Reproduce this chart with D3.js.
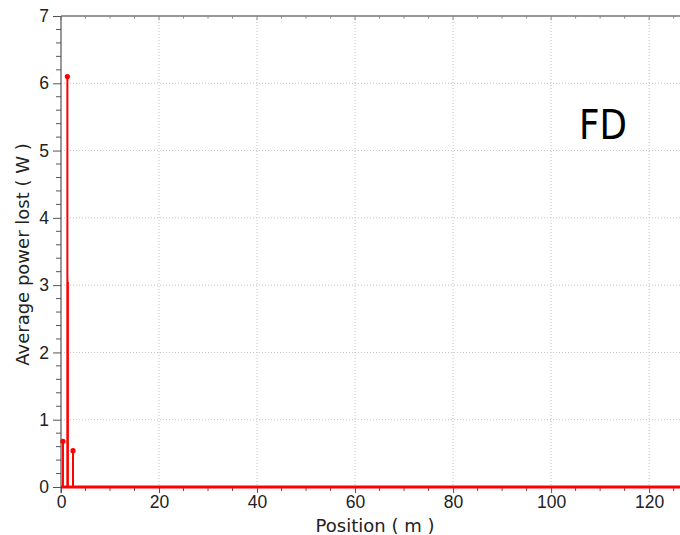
<!DOCTYPE html>
<html>
<head>
<meta charset="utf-8">
<script src="https://cdn.jsdelivr.net/npm/d3@7"></script>
<style>
  html, body { margin: 0; padding: 0; background: #fff; }
  svg { display: block; font-family: "DejaVu Sans", sans-serif; }
</style>
</head>
<body>
<svg id="chart" width="680" height="535"></svg>
<script>
// Stem data: position along the line (m) and average power lost (W)
const positions = [0.4, 1.3, 1.4, 2.45];
const powers = [0.68, 6.1, 3.05, 0.54];
const showMarker = [true, true, false, true];

const xTicks = [0, 20, 40, 60, 80, 100, 120];
const yTicks = [0, 1, 2, 3, 4, 5, 6, 7];
const xDomain = [0, 126.3];
const yDomain = [0, 7];

const svg = d3.select("#chart");
const plotLeft = 61, plotRight = 680, plotTop = 16, plotBottom = 487;

const x = d3.scaleLinear().domain(xDomain).range([plotLeft, plotRight]);
const y = d3.scaleLinear().domain(yDomain).range([plotBottom, plotTop]);

const red = "#ff0000";
const axisColor = "#555";

// dotted grid at major ticks
const grid = svg.append("g");
grid.selectAll("line.gx").data(xTicks.filter(d => d > 0)).join("line")
  .attr("x1", d => x(d)).attr("x2", d => x(d))
  .attr("y1", plotTop).attr("y2", plotBottom)
  .attr("stroke", "#c4c4c4").attr("stroke-width", 1).attr("stroke-dasharray", "1,2");
grid.selectAll("line.gy").data(yTicks.filter(d => d > 0 && d < 7)).join("line")
  .attr("x1", plotLeft).attr("x2", plotRight)
  .attr("y1", d => y(d)).attr("y2", d => y(d))
  .attr("stroke", "#c4c4c4").attr("stroke-width", 1).attr("stroke-dasharray", "1,2");

const xMinor = d3.range(0, 126, 5).filter(d => d % 20 !== 0);
const yMinor = d3.range(0, 7.01, 0.2).filter(d => Math.abs(d - Math.round(d)) > 1e-6);

// bottom axis
const xAxis = svg.append("g").attr("transform", `translate(0,${plotBottom})`)
  .call(d3.axisBottom(x).tickValues(xTicks).tickFormat(d3.format("d")).tickSize(6).tickPadding(3));
xAxis.select(".domain").remove();
xAxis.selectAll(".tick line").attr("stroke", axisColor);
xAxis.selectAll("text").attr("font-size", 17.5).attr("fill", "#222");
svg.append("g").selectAll("line").data(xMinor).join("line")
  .attr("x1", d => x(d)).attr("x2", d => x(d))
  .attr("y1", plotBottom).attr("y2", plotBottom + 4)
  .attr("stroke", axisColor);

// left axis
const yAxis = svg.append("g").attr("transform", `translate(${plotLeft},0)`)
  .call(d3.axisLeft(y).tickValues(yTicks).tickFormat(d3.format("d")).tickSize(8).tickPadding(4));
yAxis.select(".domain").remove();
yAxis.selectAll(".tick line").attr("stroke", axisColor);
yAxis.selectAll("text").attr("font-size", 17.5).attr("fill", "#222");
svg.append("g").selectAll("line").data(yMinor).join("line")
  .attr("x1", plotLeft - 5).attr("x2", plotLeft)
  .attr("y1", d => y(d)).attr("y2", d => y(d))
  .attr("stroke", axisColor);

// top frame with inward ticks
svg.append("line").attr("x1", plotLeft).attr("x2", plotRight).attr("y1", plotTop).attr("y2", plotTop)
  .attr("stroke", "#777").attr("stroke-width", 1.5);
svg.append("g").selectAll("line").data(xMinor.concat(xTicks)).join("line")
  .attr("x1", d => x(d)).attr("x2", d => x(d))
  .attr("y1", plotTop).attr("y2", d => plotTop + (d % 20 === 0 ? 4 : 2.5))
  .attr("stroke", "#888");
svg.append("line").attr("x1", plotLeft).attr("x2", plotLeft).attr("y1", plotTop).attr("y2", plotBottom + 6)
  .attr("stroke", axisColor).attr("stroke-width", 1.2);

// zero baseline of the series
svg.append("line")
  .attr("x1", x(xDomain[0])).attr("x2", x(xDomain[1]))
  .attr("y1", y(0)).attr("y2", y(0))
  .attr("stroke", red).attr("stroke-width", 3);

// stems
const pts = positions.map((p, i) => ({ p, v: powers[i], m: showMarker[i] }));
svg.append("g").selectAll("line").data(pts).join("line")
  .attr("x1", d => x(d.p)).attr("x2", d => x(d.p))
  .attr("y1", y(0)).attr("y2", d => y(d.v))
  .attr("stroke", red).attr("stroke-width", 2);
svg.append("g").selectAll("circle").data(pts.filter(d => d.m)).join("circle")
  .attr("cx", d => x(d.p)).attr("cy", d => y(d.v)).attr("r", 2.6)
  .attr("fill", red);

// labels
svg.append("text").attr("x", 375).attr("y", 532).attr("text-anchor", "middle")
  .attr("font-size", 18).attr("fill", "#222").text("Position ( m )");
svg.append("text").attr("transform", `translate(29,${(plotTop + plotBottom) / 2 + 3}) rotate(-90)`)
  .attr("text-anchor", "middle").attr("font-size", 18).attr("fill", "#222")
  .text("Average power lost ( W )");
svg.append("text").attr("x", 579).attr("y", 139)
  .attr("font-size", 40).attr("fill", "#000")
  .attr("textLength", 48).attr("lengthAdjust", "spacingAndGlyphs")
  .text("FD");
</script>
</body>
</html>
